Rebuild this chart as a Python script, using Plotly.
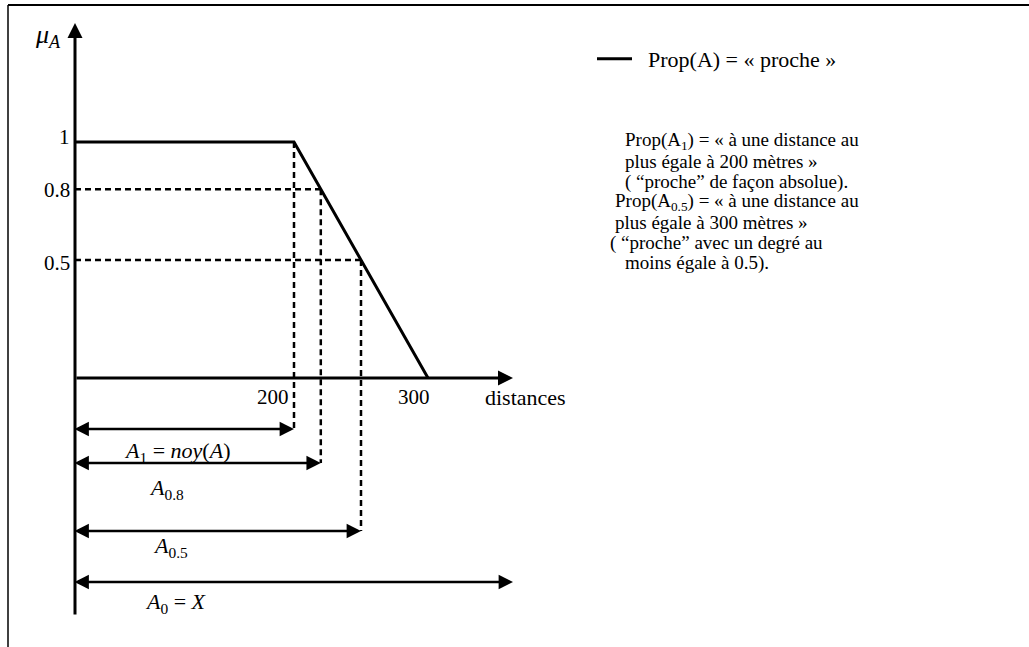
import plotly.graph_objects as go

# ---- data: fuzzy set "proche" (close) over distances ----
KERNEL_END = 200        # membership is 1 up to this distance
SUPPORT_END = 300       # membership falls to 0 at this distance
ALPHA_LEVELS = [1.0, 0.8, 0.5]
Y_TICK_TEXT = ["1", "0.8", "0.5"]
X_TICKS = [200, 300]
X_TICK_TEXT = ["200", "300"]
CUT_LABELS = [
    "<i>A</i><sub>1</sub> = <i>noy</i>(<i>A</i>)",
    "<i>A</i><sub>0.8</sub>",
    "<i>A</i><sub>0.5</sub>",
    "<i>A</i><sub>0</sub> = <i>X</i>",
]
LEGEND_TEXT = "Prop(A) = « proche »"
NOTE_LINES = [
    "Prop(A<sub>1</sub>) = « à une distance au",
    "plus égale à 200 mètres »",
    "( “proche” de façon absolue).",
    "Prop(A<sub>0.5</sub>) = « à une distance au",
    "plus égale à 300 mètres »",
    "( “proche” avec un degré au",
    "moins égale à 0.5).",
]

# ---- page geometry (pixels) ----
W, H = 1029, 647
X_PX_200 = 294          # pixel column of distance 200
PX_PER_UNIT = 1.34      # horizontal pixels per metre
Y_PX_0 = 378            # pixel row of membership 0
PX_PER_MU = 236         # vertical pixels per membership unit

def dx(p):
    """pixel column -> distance units"""
    return 200 + (p - X_PX_200) / PX_PER_UNIT

def dy(p):
    """pixel row -> membership units"""
    return (Y_PX_0 - p) / PX_PER_MU

AXIS_X = dx(75)          # where the vertical axis stands
ARROW_START = dx(73)     # left tips of the cut arrows rest on the axis
UNIVERSE_END = dx(513)   # right end of the universe X
ROWS = [dy(429), dy(463), dy(531), dy(582)]   # rows of the cut arrows
LABEL_ROWS = [dy(452), dy(489), dy(547), dy(603)]
LABEL_X = [dx(177), dx(166), dx(170), dx(176)]


def cut_end(alpha):
    """right end of the alpha-cut of the trapezoidal set"""
    return SUPPORT_END - alpha * (SUPPORT_END - KERNEL_END)


SERIF = "Liberation Serif, Times New Roman, serif"
FS = 21

fig = go.Figure()

# membership function (also provides the legend key)
fig.add_trace(go.Scatter(
    x=[AXIS_X, KERNEL_END, SUPPORT_END], y=[1, 1, 0],
    mode="lines", line=dict(color="black", width=3),
    name="\u00a0\u00a0" + LEGEND_TEXT, showlegend=True, hoverinfo="skip",
))

# dashed guides: horizontals to the slope, verticals down to the arrows
gx, gy = [], []
for a in ALPHA_LEVELS:
    if a < 1:
        gx += [AXIS_X, cut_end(a), None]
        gy += [a, a, None]
for a, row in zip(ALPHA_LEVELS, ROWS):
    gx += [cut_end(a), cut_end(a), None]
    gy += [a, row, None]
fig.add_trace(go.Scatter(
    x=gx, y=gy, mode="lines",
    line=dict(color="black", width=2.5, dash="6px,4px"),
    showlegend=False, hoverinfo="skip",
))

ann = []

def arrow(x0, y0, x1, y1, both=False, width=2.5, size=1.15):
    ann.append(dict(
        x=x1, y=y1, ax=x0, ay=y0, xref="x", yref="y", axref="x", ayref="y",
        text="", showarrow=True, arrowhead=2, arrowsize=size, arrowwidth=width,
        arrowcolor="black", arrowside="end+start" if both else "end",
        startarrowhead=2, startarrowsize=size, standoff=0, startstandoff=0,
    ))

# axes
arrow(AXIS_X, dy(616), AXIS_X, dy(23), width=3, size=1.0)
arrow(AXIS_X, 0, UNIVERSE_END, 0, width=3, size=1.0)

# alpha-cut arrows
ends = [cut_end(a) for a in ALPHA_LEVELS] + [UNIVERSE_END]
for e, row in zip(ends, ROWS):
    arrow(ARROW_START, row, e, row, both=True)

def label(text, x, y, xanchor="center", size=FS, xshift=0, yshift=0):
    ann.append(dict(
        x=x, y=y, xref="x", yref="y", text=text, showarrow=False,
        xanchor=xanchor, yanchor="middle", xshift=xshift, yshift=yshift,
        font=dict(family=SERIF, size=size, color="black"),
    ))

# axis titles and tick labels
label("<i>μ</i><sub><i>A</i></sub>", dx(48), dy(36), size=26)
for a, t, off in zip(ALPHA_LEVELS, Y_TICK_TEXT, [5, -1, -3]):
    label(t, dx(72), a, xanchor="right", yshift=off)
for v, t, sh in zip(X_TICKS, X_TICK_TEXT, [-3, 4]):
    label(t, v, dy(397), xanchor="right", xshift=sh)
label("distances", dx(483), dy(397), xanchor="left", size=22)

# cut labels
for t, x, y in zip(CUT_LABELS, LABEL_X, LABEL_ROWS):
    label(t, x, y, size=22)

# explanatory notes
NOTE_X = [623, 623, 623, 613, 613, 608, 623]
NOTE_Y = [141, 161, 182, 202, 222, 243, 263]
for t, x, y in zip(NOTE_LINES, NOTE_X, NOTE_Y):
    label(t, dx(x), dy(y), xanchor="left", size=19)

# frame
shapes = [
    dict(type="line", xref="paper", yref="paper", x0=8 / W, x1=1,
         y0=1 - 5 / H, y1=1 - 5 / H, line=dict(color="black", width=2)),
    dict(type="line", xref="paper", yref="paper", x0=8 / W, x1=8 / W,
         y0=1 - 5 / H, y1=0, line=dict(color="black", width=1.5)),
]

fig.update_layout(
    width=W, height=H,
    margin=dict(l=0, r=0, t=0, b=0),
    paper_bgcolor="white", plot_bgcolor="white",
    xaxis=dict(range=[dx(0), dx(W)], visible=False, fixedrange=True),
    yaxis=dict(range=[dy(H), dy(0)], visible=False, fixedrange=True),
    annotations=ann, shapes=shapes,
    showlegend=True,
    legend=dict(
        x=592 / W, y=1 - 59 / H, xanchor="left", yanchor="middle",
        bgcolor="rgba(0,0,0,0)", borderwidth=0, itemwidth=35,
        font=dict(family=SERIF, size=22, color="black"),
    ),
)

fig.write_html("out.html")
